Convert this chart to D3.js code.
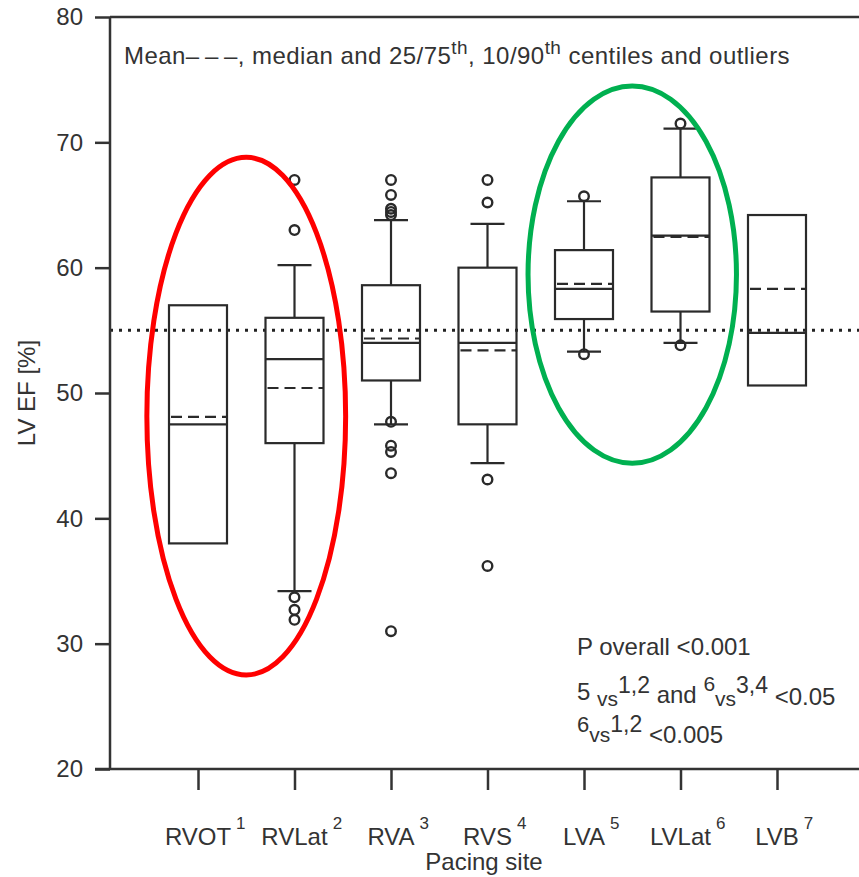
<!DOCTYPE html>
<html>
<head>
<meta charset="utf-8">
<script src="https://cdn.jsdelivr.net/npm/d3@7"></script>
<style>
	body { margin: 0; background: #fff; }
	svg { display: block; font-family: "Liberation Sans", Arial, sans-serif; }
	.axis path, .axis line { stroke: #333; stroke-width: 2.5; }
	.axis text { fill: #333; font-size: 24px; }
	text { fill: #333; }
</style>
</head>
<body>
<div id="chart"></div>
<script>
'use strict';

var categories = ['RVOT', 'RVLat', 'RVA', 'RVS', 'LVA', 'LVLat', 'LVB'];
var categoryIndex = ['1', '2', '3', '4', '5', '6', '7'];
var q25 = [38, 46, 51, 47.5, 55.9, 56.5, 50.6];
var q75 = [57, 56, 58.6, 60, 61.4, 67.2, 64.2];
var medians = [47.5, 52.7, 54, 54, 58.3, 62.55, 54.8];
var means = [48.1, 50.4, 54.35, 53.4, 58.7, 62.45, 58.3];
var p10 = [null, 34.2, 47.5, 44.4, 53.3, 54.0, null];
var p90 = [null, 60.2, 63.8, 63.5, 65.3, 71.1, null];
var outliers = [
	[],
	[67, 63, 33.7, 32.7, 31.9],
	[67, 65.8, 64.7, 64.45, 64.2, 47.7, 45.8, 45.3, 43.6, 31],
	[67, 65.2, 43.1, 36.2],
	[65.7, 53.1],
	[71.5, 53.8],
	[]
];
var yTicks = [20, 30, 40, 50, 60, 70, 80];
var referenceEF = 55;
// highlighted groups: first/last category, vertical extent in % EF
var highlightFrom = ['RVOT', 'LVA'];
var highlightTo = ['RVLat', 'LVLat'];
var highlightTop = [68.8, 74.5];
var highlightBottom = [27.5, 44.4];
var highlightColor = ['#ff0000', '#00b050'];

var width = 859, height = 877;
var margin = { left: 110, top: 17, bottom: 108, right: 0 };

var svg = d3.select('#chart').append('svg')
	.attr('width', width)
	.attr('height', height)
	;

var x = d3.scalePoint()
	.domain(categories)
	.range([198, 777])
	;
var step = x.step();
var y = d3.scaleLinear()
	.domain([20, 80])
	.range([height - margin.bottom, margin.top])
	;

var data = categories.map(function(c, i) {
	return { id: c, idx: categoryIndex[i], q1: q25[i], q3: q75[i],
		median: medians[i], mean: means[i], lo: p10[i], hi: p90[i],
		out: outliers[i] };
});

// frame
svg.append('line')
	.attr('x1', margin.left).attr('x2', width)
	.attr('y1', y(80)).attr('y2', y(80))
	.attr('stroke', '#333').attr('stroke-width', 2.5)
	;

// reference line
svg.append('line')
	.attr('x1', margin.left).attr('x2', width)
	.attr('y1', y(referenceEF)).attr('y2', y(referenceEF))
	.attr('stroke', '#222').attr('stroke-width', 3)
	.attr('stroke-dasharray', '3,6')
	;

var yAxis = d3.axisLeft(y)
	.tickValues(yTicks)
	.tickSize(15)
	.tickPadding(12)
	;
svg.append('g')
	.attr('class', 'y axis')
	.attr('transform', 'translate(' + margin.left + ',0)')
	.call(yAxis)
	.call(function(g) { g.select('.domain').attr('d', 'M0,' + y(20) + 'V' + y(80)); })
	;

var xAxis = d3.axisBottom(x)
	.tickSize(21)
	.tickFormat('')
	;
svg.append('g')
	.attr('class', 'x axis')
	.attr('transform', 'translate(0,' + y(20) + ')')
	.call(xAxis)
	.call(function(g) { g.select('.domain').attr('d', 'M' + (margin.left - 15) + ',0H' + width); })
	;

// category labels with superscript index
var labels = svg.append('g').attr('class', 'xlabels');
data.forEach(function(d) {
	var t = labels.append('text')
		.attr('x', x(d.id))
		.attr('y', 845)
		.attr('text-anchor', 'middle')
		.attr('font-size', 24)
		.text(d.id)
		;
	var w = t.node().getComputedTextLength();
	labels.append('text')
		.attr('x', x(d.id) + w / 2 + 5)
		.attr('y', 829)
		.attr('font-size', 17)
		.text(d.idx)
		;
});

svg.append('text')
	.attr('x', 484)
	.attr('y', 870)
	.attr('text-anchor', 'middle')
	.attr('font-size', 24)
	.text('Pacing site')
	;
svg.append('text')
	.attr('transform', 'translate(35,' + y(50) + ') rotate(-90)')
	.attr('text-anchor', 'middle')
	.attr('font-size', 24)
	.text('LV EF [%]')
	;

// boxes
var boxW = 58, capW = 34;
var boxes = svg.append('g').attr('class', 'boxes')
	.attr('stroke', '#2a2a2a')
	.attr('fill', 'none')
	.attr('stroke-width', 2.2)
	;
data.forEach(function(d) {
	var cx = x(d.id);
	var g = boxes.append('g');
	if (d.hi !== null) {
		g.append('line').attr('x1', cx).attr('x2', cx).attr('y1', y(d.q3)).attr('y2', y(d.hi));
		g.append('line').attr('x1', cx - capW / 2).attr('x2', cx + capW / 2).attr('y1', y(d.hi)).attr('y2', y(d.hi));
	}
	if (d.lo !== null) {
		g.append('line').attr('x1', cx).attr('x2', cx).attr('y1', y(d.q1)).attr('y2', y(d.lo));
		g.append('line').attr('x1', cx - capW / 2).attr('x2', cx + capW / 2).attr('y1', y(d.lo)).attr('y2', y(d.lo));
	}
	g.append('rect')
		.attr('x', cx - boxW / 2)
		.attr('width', boxW)
		.attr('y', y(d.q3))
		.attr('height', y(d.q1) - y(d.q3))
		;
	g.append('line')
		.attr('x1', cx - boxW / 2).attr('x2', cx + boxW / 2)
		.attr('y1', y(d.median)).attr('y2', y(d.median))
		;
	g.append('line')
		.attr('x1', cx - boxW / 2).attr('x2', cx + boxW / 2)
		.attr('y1', y(d.mean)).attr('y2', y(d.mean))
		.attr('stroke-dasharray', '11,6')
		.attr('stroke-dashoffset', -2)
		;
	g.selectAll('circle')
		.data(d.out)
		.enter()
		.append('circle')
			.attr('cx', cx)
			.attr('cy', function(v) { return y(v); })
			.attr('r', 4.8)
			.attr('stroke-width', 2.4)
		;
});

// highlight ellipses
highlightFrom.forEach(function(f, i) {
	var x1 = x(f), x2 = x(highlightTo[i]);
	svg.append('ellipse')
		.attr('cx', (x1 + x2) / 2)
		.attr('cy', (y(highlightTop[i]) + y(highlightBottom[i])) / 2)
		.attr('rx', (x2 - x1) / 2 + step * (i === 0 ? 0.53 : 0.58))
		.attr('ry', (y(highlightBottom[i]) - y(highlightTop[i])) / 2)
		.attr('fill', 'none')
		.attr('stroke', highlightColor[i])
		.attr('stroke-width', 5)
		;
});

// legend note
var note = svg.append('text')
	.attr('x', 124)
	.attr('y', 64)
	.attr('font-size', 24)
	.attr('letter-spacing', 0.45)
	;
note.append('tspan').text('Mean\u2013\u2009\u2013\u2009\u2013, median and 25/75');
note.append('tspan').attr('dy', -10).attr('font-size', 19).text('th');
note.append('tspan').attr('dy', 10).text(', 10/90');
note.append('tspan').attr('dy', -10).attr('font-size', 19).text('th');
note.append('tspan').attr('dy', 10).text(' centiles and outliers');

// statistics
var stats = svg.append('g').attr('font-size', 24);
stats.append('text').attr('x', 577).attr('y', 655).text('P overall <0.001');
var l2 = stats.append('text').attr('x', 577).attr('y', 700);
l2.append('tspan').text('5 ');
l2.append('tspan').attr('dy', 6).attr('font-size', 21).text('vs');
l2.append('tspan').attr('dy', -13).attr('font-size', 23).text('1,2');
l2.append('tspan').attr('dy', 10).text(' and ');
l2.append('tspan').attr('dy', -12).attr('font-size', 21).text('6');
l2.append('tspan').attr('dy', 15).attr('font-size', 21).text('vs');
l2.append('tspan').attr('dy', -13).attr('font-size', 23).text('3,4');
l2.append('tspan').attr('dy', 12).attr('font-size', 24).text(' <0.05');
var l3 = stats.append('text').attr('x', 577).attr('y', 732);
l3.append('tspan').attr('font-size', 22).text('6');
l3.append('tspan').attr('dy', 10).attr('font-size', 21).text('vs');
l3.append('tspan').attr('dy', -10).attr('font-size', 23).text('1,2');
l3.append('tspan').attr('dy', 11).attr('font-size', 24).text(' <0.005');
</script>
</body>
</html>
